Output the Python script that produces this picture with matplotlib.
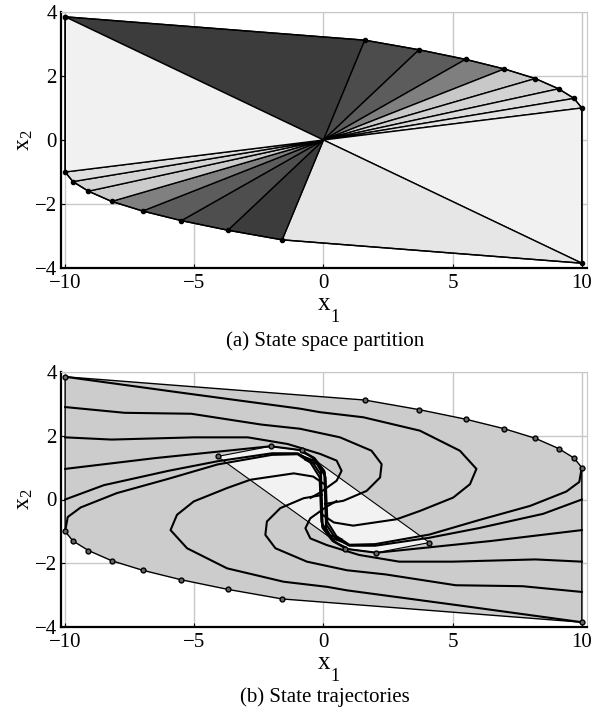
import matplotlib.pyplot as plt
import numpy as np

plt.rcParams['font.family'] = ['Liberation Serif']
plt.rcParams['mathtext.fontset'] = 'custom'
plt.rcParams['mathtext.rm'] = 'Liberation Serif'
plt.rcParams['mathtext.it'] = 'Liberation Serif'

# Outer polytope, upper vertices; the lower ones are their mirror through the origin
outer_x = [-10.0, 1.6, 3.7, 5.5, 7.0, 8.2, 9.1, 9.7, 10.0]
outer_y = [3.85, 3.12, 2.82, 2.52, 2.22, 1.92, 1.6, 1.3, 1.0]

# Grey level of each triangular region (origin + two consecutive vertices)
region_grey = ['#3c3c3c', '#4c4c4c', '#5c5c5c', '#7f7f7f', '#c8c8c8',
               '#d3d3d3', '#dcdcdc', '#e4e4e4', '#f1f1f1',
               '#e6e6e6', '#3c3c3c', '#4e4e4e', '#5c5c5c', '#808080',
               '#cbcbcb', '#d5d5d5', '#dfdfdf', '#f1f1f1']

# Inner (terminal) set, half of its vertices
inner_x = [-4.1, -2.05, -0.85]
inner_y = [1.35, 1.67, 1.54]

# Closed-loop trajectories from the left edge (mirrored ones start on the right)
traj = [
    ([-10, -5.5, -0.91, -0.14, 1.54, 3.73, 5.28, 5.92, 5.67, 5.02, 3.73, 2.83,
      1.15, 0.4, 0.0],
     [3.85, 3.35, 2.85, 2.74, 2.58, 2.16, 1.53, 0.96, 0.48, 0.06, -0.36, -0.62,
      -0.82, -0.72, -0.5]),
    ([-10, -7.7, -5.12, -2.4, -0.91, 0.64, 1.86, 2.25, 2.19, 1.67, 0.77, 0.06],
     [2.9, 2.72, 2.69, 2.35, 2.22, 1.95, 1.53, 1.11, 0.69, 0.27, -0.04, -0.14]),
    ([-10, -8.2, -5.0, -2.93, -1.38, -0.13, 0.51, 0.7, 0.51, -0.13, -0.5],
     [1.95, 1.88, 1.95, 1.95, 1.74, 1.43, 1.22, 0.9, 0.59, 0.22, 0.05]),
    ([-10, -6.5, -4.1, -2.05, -0.88, -0.4, -0.1, -0.03, 0.35, 0.85],
     [0.96, 1.3, 1.5, 1.67, 1.55, 1.32, 0.9, -0.9, -1.3, -1.5]),
    ([-10, -8.5, -6.0, -4.1, -2.0, -1.0, -0.45, -0.12, -0.05, 0.3, 0.8],
     [0.0, 0.45, 0.9, 1.2, 1.45, 1.45, 1.2, 0.8, -0.85, -1.2, -1.35]),
    ([-10, -9.9, -9.4, -8.0, -6.0, -4.1, -2.0, -1.0, -0.5, -0.15, -0.08, 0.2,
      0.7],
     [-1.0, -0.55, -0.25, 0.2, 0.65, 1.1, 1.4, 1.42, 1.15, 0.7, -0.7, -1.1,
      -1.25]),
]

ox = np.array(outer_x + [-v for v in outer_x])
oy = np.array(outer_y + [-v for v in outer_y])
ix = np.array(inner_x + [-v for v in inner_x])
iy = np.array(inner_y + [-v for v in inner_y])

fig = plt.figure(figsize=(5.97, 7.12), dpi=100)
ax1 = fig.add_axes([61 / 597, 1 - 268 / 712, 526 / 597, 256 / 712])
ax2 = fig.add_axes([61 / 597, 1 - 627 / 712, 526 / 597, 255 / 712])


def style(ax):
    ax.set_xlim(-10.16, 10.2)
    ax.set_ylim(-4, 4)
    ax.set_xticks([-10, -5, 0, 5, 10])
    ax.set_yticks([-4, -2, 0, 2, 4])
    ax.grid(True, color='#c8c8c8', lw=1.0)
    ax.set_axisbelow(True)
    for s in ['top', 'right']:
        ax.spines[s].set_color('#c8c8c8')
    for s in ['left', 'bottom']:
        ax.spines[s].set_linewidth(1.6)
    ax.tick_params(direction='in', length=3, labelsize=15)
    ax.tick_params(axis='x', pad=4)
    ax.tick_params(axis='y', pad=3)
    ax.set_xticklabels(['\u221210', '\u22125', '0', '5', '10'])
    ax.set_yticklabels(['\u22124', '\u22122', '0', '2', '4'])
    # x label with a low-set subscript
    ax.set_xlabel('x', fontsize=18, labelpad=0)
    ax.text(0.513, -0.16, '1', transform=ax.transAxes, fontsize=13,
            ha='left', va='top')
    ax.set_ylabel(r'$\mathrm{x}_2$', fontsize=17, labelpad=0)


# (a) partition
n = len(ox)
for k in range(n):
    j = (k + 1) % n
    ax1.fill([0, ox[k], ox[j]], [0, oy[k], oy[j]], facecolor=region_grey[k],
             edgecolor='black', lw=1.0, zorder=2)
ax1.plot(np.append(ox, ox[0]), np.append(oy, oy[0]), color='black', lw=1.0,
         marker='o', ms=3, zorder=3)
style(ax1)

# (b) trajectories
ax2.fill(ox, oy, facecolor='#cccccc', edgecolor='black', lw=1.0, zorder=2)
ax2.plot(ox, oy, ls='none', marker='o', ms=3.5, mfc='#666666', mec='black',
         zorder=5)
ax2.fill(ix, iy, facecolor='#f2f2f2', edgecolor='black', lw=0.8, zorder=3)
ax2.plot(ix, iy, ls='none', marker='o', ms=3.5, mfc='#666666', mec='black',
         zorder=5)
for tx, ty in traj:
    tx = np.array(tx, dtype=float)
    ty = np.array(ty, dtype=float)
    ax2.plot(tx, ty, color='black', lw=1.5, zorder=4)
    ax2.plot(-tx, -ty, color='black', lw=1.5, zorder=4)
style(ax2)

fig.text(325 / 597, 1 - 341 / 712, '(a) State space partition', ha='center',
         va='center', fontsize=15)
fig.text(325 / 597, 1 - 697 / 712, '(b) State trajectories', ha='center',
         va='center', fontsize=15)

fig.savefig('out.png', dpi=100)
